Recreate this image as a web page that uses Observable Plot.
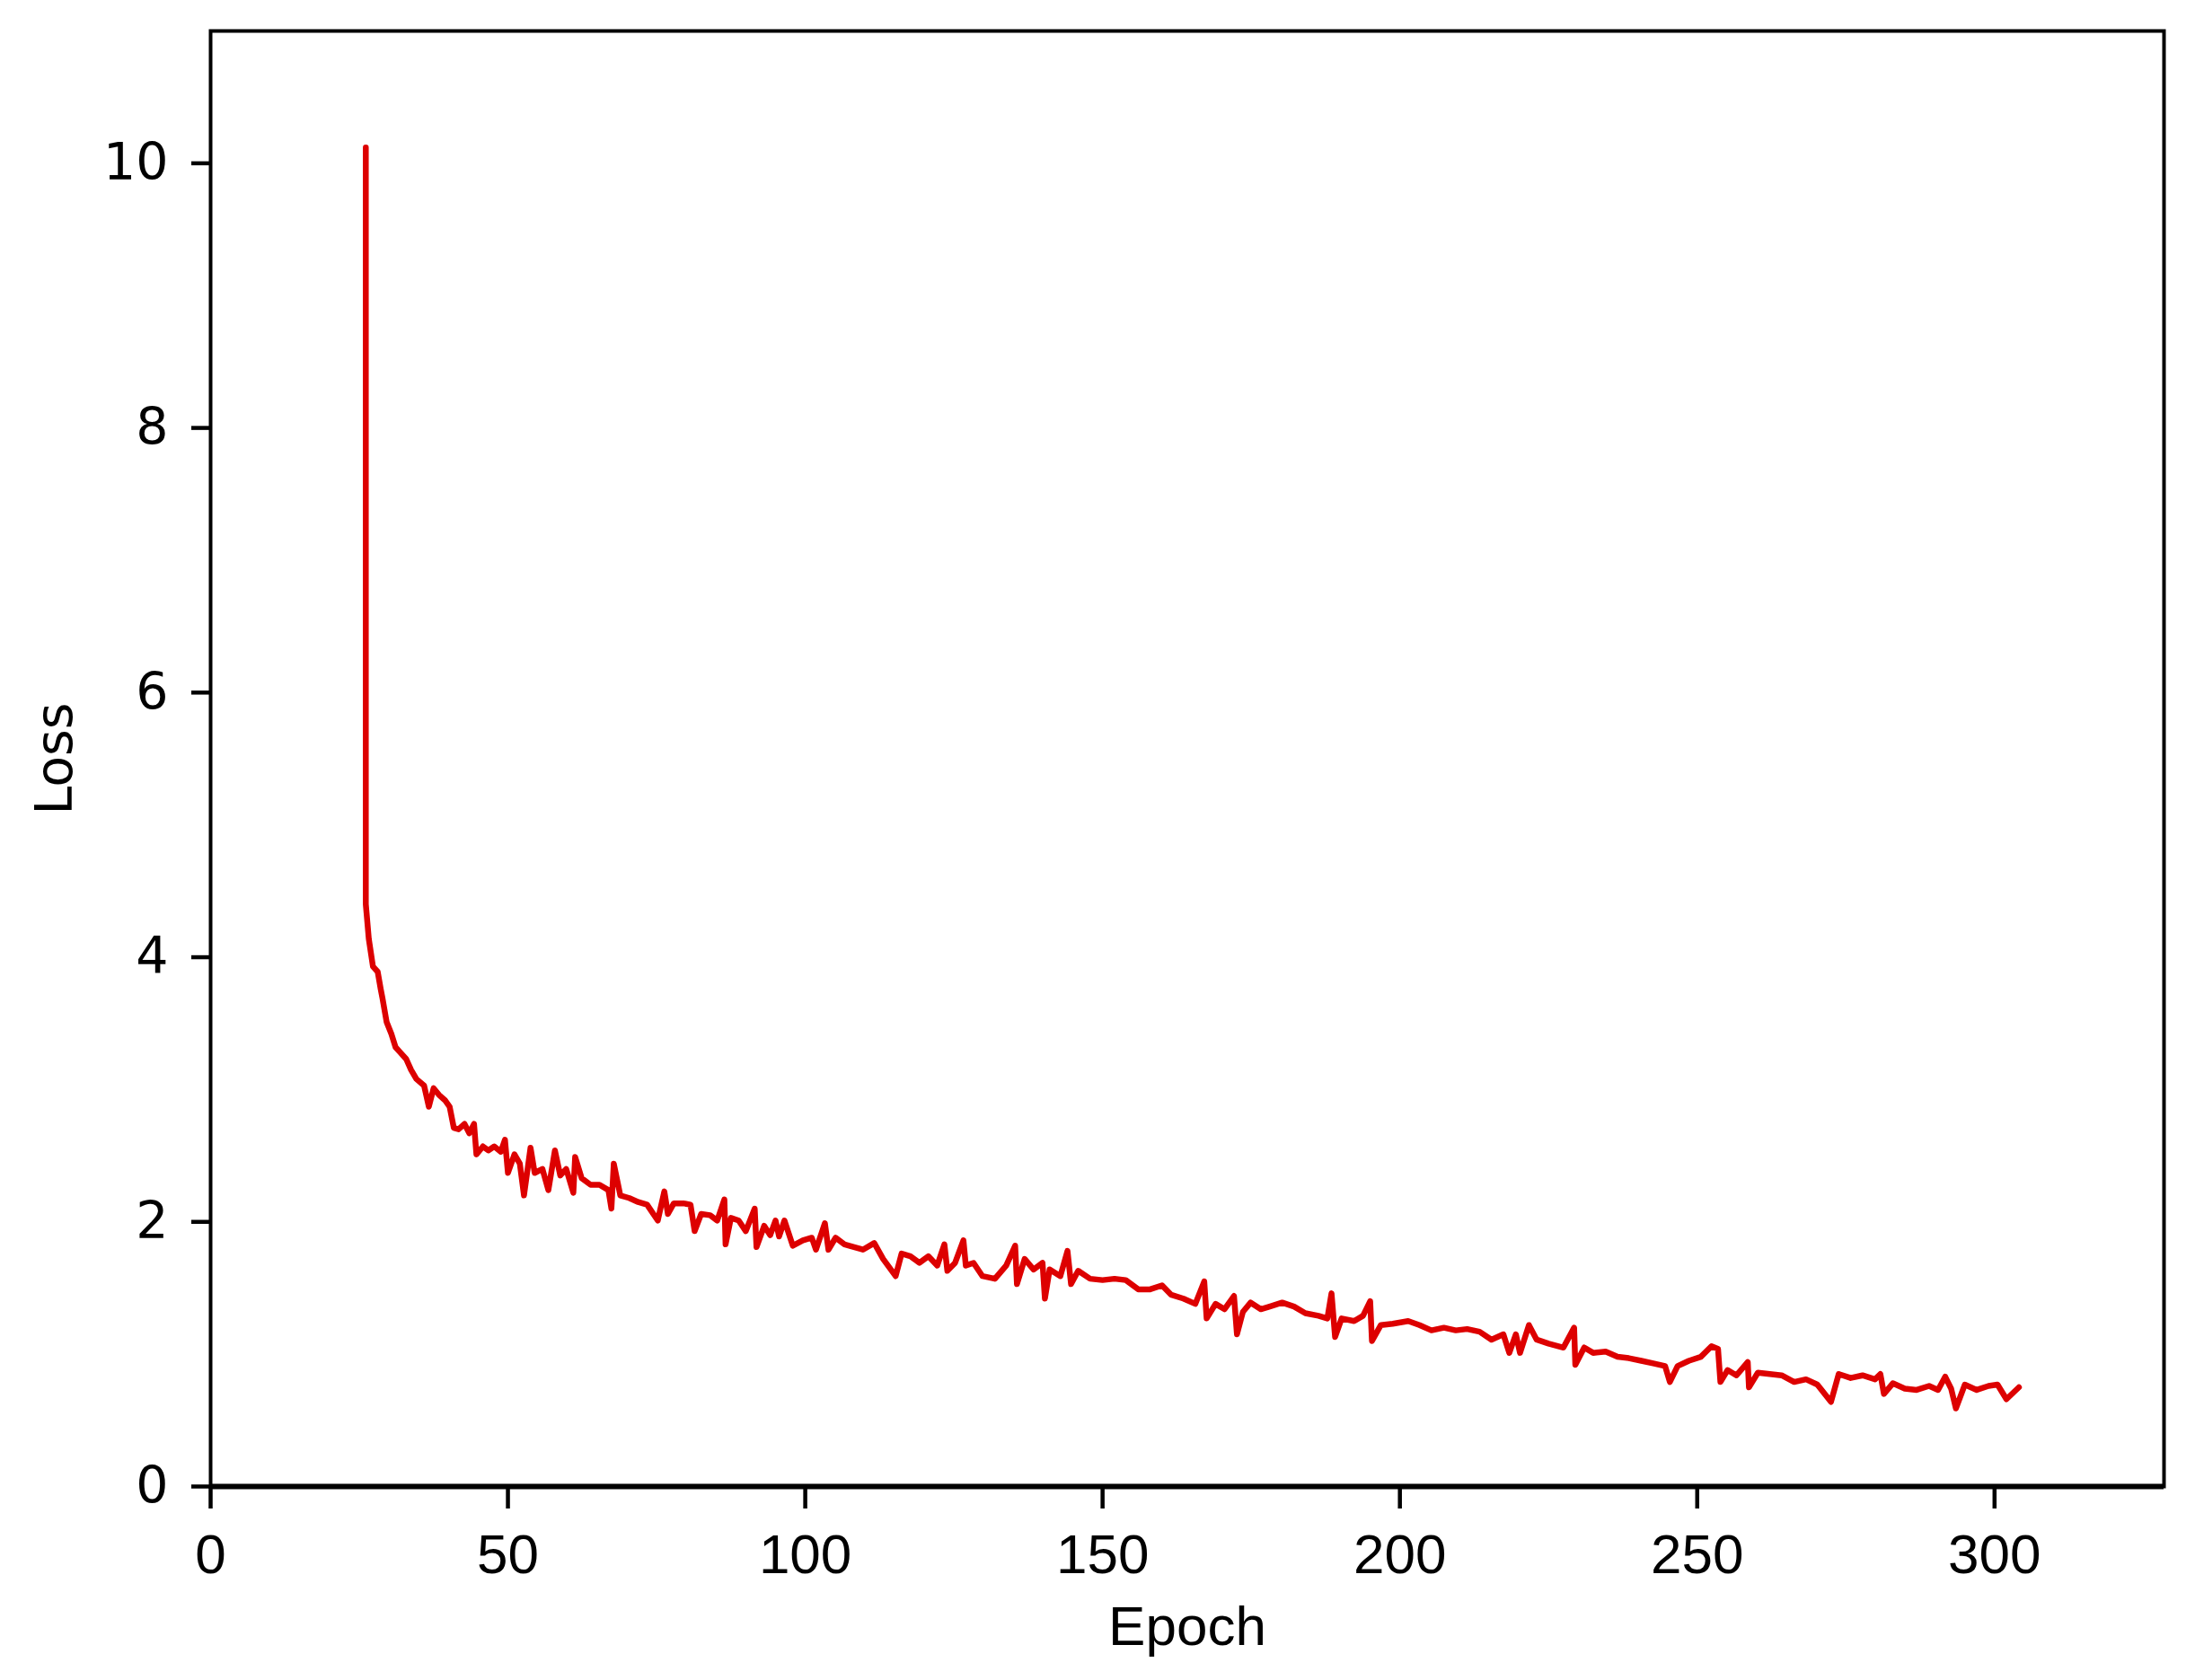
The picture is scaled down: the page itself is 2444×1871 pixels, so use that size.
<!DOCTYPE html>
<html>
<head>
<meta charset="utf-8">
<script src="https://cdn.jsdelivr.net/npm/d3@7"></script>
<script src="https://cdn.jsdelivr.net/npm/@observablehq/plot@0.6"></script>
<style>
  html, body { margin: 0; padding: 0; background: #fff; }
  #chart svg { display: block; }
</style>
</head>
<body>
<div id="chart"></div>
<script>
// Epoch positions of the read points
const epochs = [
  26.1, 26.1, 26.1, 26.6, 27.3, 28.1, 28.6, 28.9, 29.6, 30.4,
  31.1, 31.9, 32.9, 33.7, 34.6, 35.9, 36.7, 37.5, 38.4, 39.4,
  40.2, 40.9, 41.7, 42.7, 43.5, 44.3, 44.7, 45.8, 46.7, 47.7,
  48.8, 49.5, 50.0, 51.1, 52.0, 52.7, 53.8, 54.5, 55.8, 56.8,
  57.9, 58.8, 59.8, 61.0, 61.3, 62.4, 63.9, 65.4, 66.9, 67.4,
  67.8, 68.9, 70.4, 71.9, 73.4, 75.2, 76.3, 76.9, 77.9, 79.5,
  80.7, 81.4, 82.5, 84.0, 85.2, 86.4, 86.6, 87.5, 88.8, 90.0,
  91.5, 91.8, 93.1, 94.1, 95.0, 95.6, 96.5, 97.9, 99.6, 101.1,
  101.8, 103.3, 103.9, 105.1, 106.6, 108.2, 109.7, 111.6, 113.1, 115.2,
  116.2, 117.7, 119.2, 120.7, 122.2, 123.4, 123.9, 125.2, 126.6, 127.0,
  128.3, 129.8, 131.9, 133.8, 135.3, 135.6, 136.9, 138.4, 139.9, 140.3,
  141.1, 142.9, 144.1, 144.7, 145.9, 147.9, 150.0, 152.0, 153.9, 156.0,
  158.0, 160.0, 161.5, 163.6, 165.6, 167.1, 167.5, 169.0, 170.5, 172.1,
  172.6, 173.6, 174.9, 176.6, 178.1, 180.2, 182.2, 184.1, 186.3, 187.8,
  188.5, 189.1, 190.2, 192.3, 193.8, 195.0, 195.3, 196.8, 198.8, 201.4,
  203.3, 205.3, 207.4, 209.4, 211.3, 213.4, 215.4, 217.4, 218.4, 219.5,
  220.2, 221.7, 223.0, 225.0, 227.5, 229.3, 229.5, 231.0, 232.5, 234.6,
  236.6, 238.5, 240.6, 242.6, 244.6, 245.4, 246.7, 248.6, 250.6, 252.4,
  253.5, 253.9, 255.1, 256.6, 258.5, 258.7, 260.2, 262.2, 264.2, 266.3,
  268.3, 270.2, 272.5, 273.8, 275.8, 277.8, 279.9, 280.8, 281.4, 282.9,
  284.9, 286.9, 289.0, 290.5, 291.7, 292.7, 293.5, 295.0, 297.0, 299.0,
  300.5, 302.0, 304.1
];
// Loss values
const losses = [
  10.12, 8.33, 4.40, 4.14, 3.93, 3.89, 3.76, 3.69, 3.51, 3.42,
  3.32, 3.28, 3.23, 3.15, 3.08, 3.03, 2.87, 3.01, 2.96, 2.92,
  2.87, 2.71, 2.70, 2.74, 2.67, 2.74, 2.51, 2.57, 2.54, 2.57,
  2.53, 2.62, 2.37, 2.51, 2.44, 2.20, 2.56, 2.37, 2.40, 2.24,
  2.54, 2.35, 2.40, 2.22, 2.49, 2.33, 2.28, 2.28, 2.24, 2.10,
  2.44, 2.20, 2.18, 2.15, 2.13, 2.01, 2.23, 2.06, 2.14, 2.14,
  2.13, 1.93, 2.06, 2.05, 2.01, 2.17, 1.83, 2.03, 2.01, 1.93,
  2.10, 1.81, 1.97, 1.90, 2.01, 1.89, 2.01, 1.82, 1.86, 1.88,
  1.79, 1.99, 1.79, 1.88, 1.83, 1.81, 1.79, 1.84, 1.72, 1.59,
  1.76, 1.74, 1.69, 1.74, 1.67, 1.83, 1.63, 1.69, 1.86, 1.67,
  1.69, 1.59, 1.57, 1.67, 1.82, 1.53, 1.72, 1.64, 1.69, 1.42,
  1.64, 1.59, 1.78, 1.53, 1.63, 1.57, 1.56, 1.57, 1.56, 1.49,
  1.49, 1.52, 1.45, 1.42, 1.38, 1.55, 1.27, 1.38, 1.34, 1.44,
  1.15, 1.32, 1.39, 1.34, 1.36, 1.39, 1.36, 1.31, 1.29, 1.27,
  1.46, 1.13, 1.27, 1.25, 1.29, 1.40, 1.10, 1.22, 1.23, 1.25,
  1.22, 1.18, 1.20, 1.18, 1.19, 1.17, 1.11, 1.15, 1.01, 1.15,
  1.01, 1.22, 1.11, 1.08, 1.05, 1.20, 0.92, 1.05, 1.01, 1.02,
  0.98, 0.97, 0.95, 0.93, 0.91, 0.79, 0.91, 0.95, 0.98, 1.06,
  1.04, 0.79, 0.88, 0.84, 0.94, 0.75, 0.86, 0.85, 0.84, 0.79,
  0.81, 0.77, 0.64, 0.85, 0.82, 0.84, 0.81, 0.85, 0.70, 0.78,
  0.74, 0.73, 0.76, 0.73, 0.83, 0.74, 0.59, 0.77, 0.73, 0.76,
  0.77, 0.66, 0.75
];
const xTicks = [0, 50, 100, 150, 200, 250, 300];
const yTicks = [0, 2, 4, 6, 8, 10];
const xLabel = "Epoch";
const yLabel = "Loss";

const data = epochs.map((e, i) => ({epoch: e, loss: losses[i]}));

const chart = Plot.plot({
  width: 2444,
  height: 1871,
  marginLeft: 234,
  marginRight: 35,
  marginTop: 34,
  marginBottom: 216,
  style: {background: "#fff", color: "#000"},
  x: {domain: [0, 328.5]},
  y: {domain: [0, 11]},
  marks: [
    Plot.line(data, {x: "epoch", y: "loss", stroke: "#dd0000", strokeWidth: 6.5, strokeLinejoin: "round"}),
    Plot.frame({stroke: "#000", strokeWidth: 4}),
    Plot.ruleY([0], {stroke: "#000", strokeWidth: 6}),
    Plot.axisX({
      ticks: xTicks, tickSize: 25, tickPadding: 27, strokeWidth: 4.5,
      fontSize: 62, fontFamily: "Liberation Sans",
      label: xLabel, labelAnchor: "center", labelArrow: "none", labelOffset: 176
    }),
    Plot.axisY({
      ticks: yTicks, tickSize: 21, tickPadding: 26, strokeWidth: 4.5,
      fontSize: 57, fontFamily: "DejaVu Sans",
      label: yLabel, labelAnchor: "center", labelArrow: "none", labelOffset: 195
    })
  ]
});
document.getElementById("chart").append(chart);
</script>
</body>
</html>
